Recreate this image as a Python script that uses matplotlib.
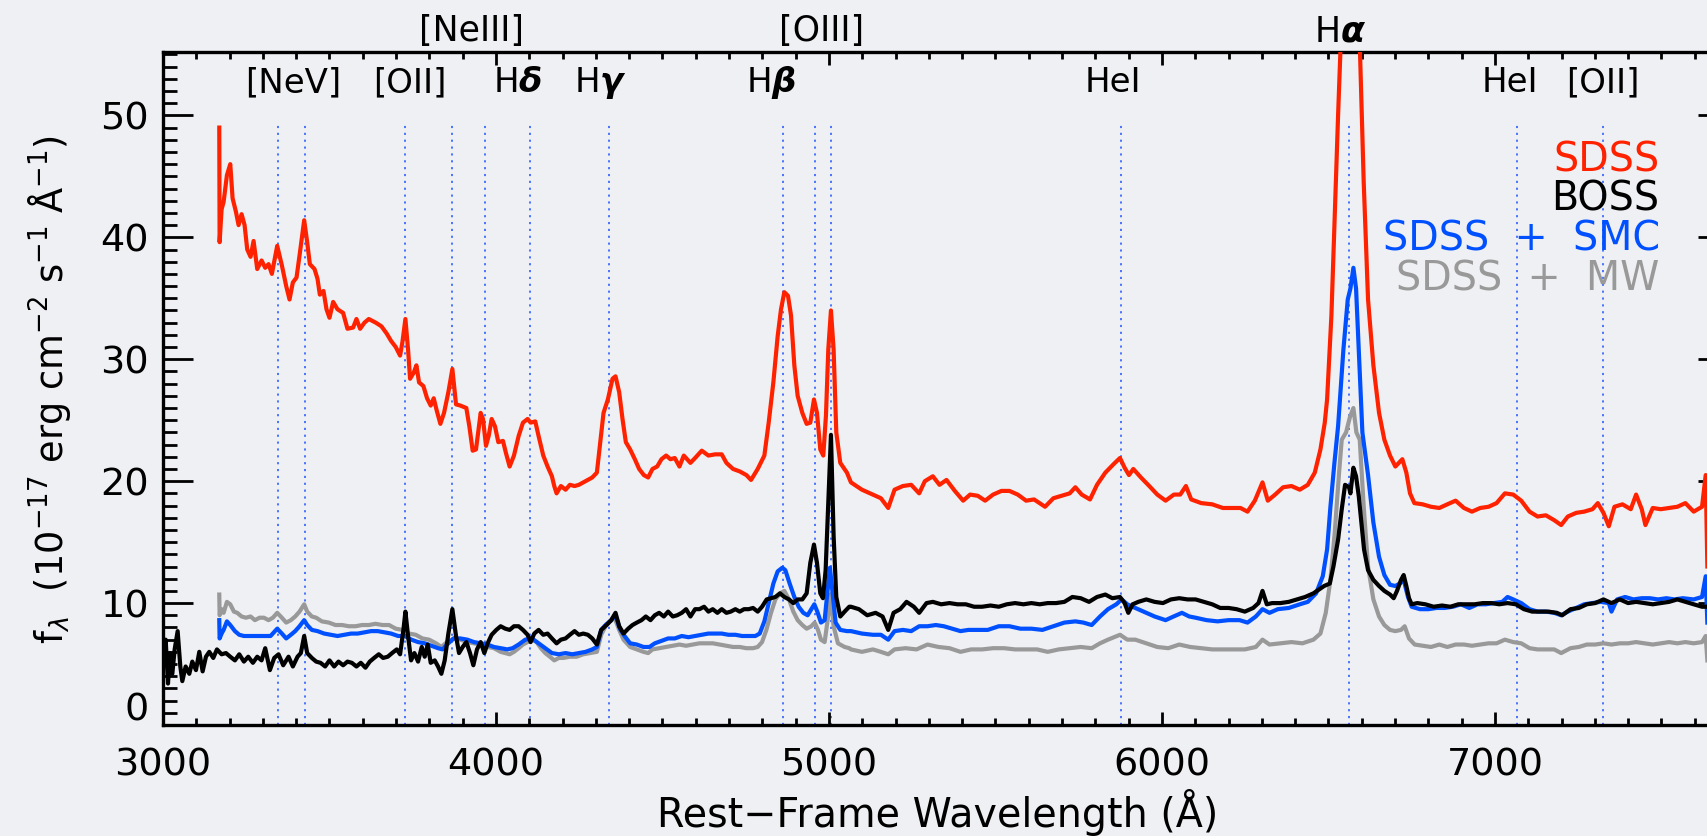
import matplotlib
matplotlib.use("Agg")
import matplotlib.pyplot as plt
from matplotlib.ticker import MultipleLocator, FixedLocator, FixedFormatter
import numpy as np

# ---------------- data ----------------
sdss_wave = [3169, 3170, 3176, 3182, 3192, 3202, 3209, 3219, 3227, 3236, 3245, 3253, 3263, 3272, 3283,
             3296, 3307, 3317, 3327, 3343, 3357, 3370, 3380, 3390, 3401, 3410, 3424, 3433, 3441, 3455,
             3464, 3471, 3482, 3491, 3500, 3511, 3524, 3541, 3554, 3571, 3581, 3592, 3605, 3618, 3639,
             3656, 3672, 3685, 3699, 3712, 3719, 3728, 3736, 3742, 3753, 3761, 3769, 3782, 3793, 3804,
             3813, 3822, 3833, 3844, 3857, 3869, 3880, 3893, 3911, 3920, 3930, 3940, 3954, 3961, 3970,
             3978, 3987, 3997, 4007, 4021, 4030, 4041, 4054, 4068, 4081, 4095, 4104, 4118, 4128, 4142,
             4155, 4168, 4175, 4182, 4195, 4209, 4222, 4236, 4249, 4269, 4289, 4303, 4323, 4336, 4350,
             4359, 4370, 4380, 4390, 4403, 4417, 4430, 4444, 4457, 4470, 4484, 4497, 4511, 4524, 4537,
             4551, 4564, 4584, 4598, 4618, 4638, 4658, 4678, 4692, 4712, 4732, 4752, 4766, 4786, 4806,
             4819, 4833, 4846, 4856, 4866, 4877, 4886, 4896, 4906, 4920, 4933, 4944, 4955, 4964, 4974,
             4983, 4991, 4998, 5006, 5014, 5022, 5034, 5054,
             5066, 5099, 5132, 5156, 5178, 5197, 5222, 5247, 5271, 5288, 5312, 5332, 5353, 5378, 5403,
             5424, 5447, 5469, 5493, 5518, 5542, 5567, 5592, 5616, 5649, 5674, 5699, 5723, 5740, 5759,
             5784, 5805, 5830, 5855, 5874, 5888, 5901, 5914, 5937, 5962, 5986, 6011, 6036, 6055, 6072,
             6088, 6118, 6151, 6183, 6216, 6236, 6257, 6279, 6302, 6318, 6340, 6364, 6389, 6414, 6438,
             6459, 6476, 6489, 6496, 6509, 6519, 6529, 6537, 6565, 6594, 6606, 6619, 6635, 6652, 6668,
             6685, 6701, 6722, 6734, 6745, 6758, 6783, 6808, 6833, 6857, 6882, 6907, 6931, 6956, 6981,
             7005, 7030, 7055, 7079, 7104, 7128, 7153, 7178, 7199, 7219, 7244, 7268, 7293, 7309, 7326,
             7342, 7359, 7383, 7408, 7424, 7441, 7452, 7474, 7498, 7523, 7548, 7572, 7597, 7622, 7633,
             7638]
sdss_flux = [49.0, 39.6, 42.3, 42.9, 45.1, 46.0, 43.2, 42.1, 41.0, 41.9, 41.0, 39.0, 38.4, 39.7, 37.4,
             38.1, 37.5, 37.8, 37.0, 39.3, 37.7, 36.0, 34.9, 36.3, 36.7, 38.5, 41.4, 39.6, 37.8, 37.4,
             36.6, 35.3, 35.6, 34.1, 33.4, 34.7, 34.1, 33.8, 32.5, 32.6, 33.3, 32.5, 33.0, 33.3, 33.0,
             32.7, 32.1, 31.5, 31.0, 30.3, 31.4, 33.3, 30.8, 28.4, 28.9, 29.5, 28.1, 27.8, 26.8, 26.2,
             26.8, 25.8, 24.7, 25.6, 27.3, 29.2, 26.3, 26.2, 26.0, 24.5, 22.5, 22.6, 25.6, 25.1, 22.9,
             23.7, 25.1, 24.5, 23.2, 23.3, 22.3, 21.2, 22.1, 23.7, 24.8, 25.1, 24.8, 24.9, 23.7, 22.1,
             21.2, 20.4, 19.6, 19.0, 19.6, 19.3, 19.7, 19.6, 19.7, 20.0, 20.3, 20.7, 25.6, 26.7, 28.4,
             28.6, 27.3, 25.1, 23.2, 22.6, 21.8, 21.0, 20.5, 20.3, 21.0, 21.2, 21.8, 22.1, 21.8, 21.9,
             21.2, 22.1, 21.5, 21.9, 22.5, 22.1, 22.2, 22.2, 21.5, 21.0, 20.8, 20.5, 20.1, 21.0, 22.1,
             24.8, 28.1, 31.9, 34.1, 35.5, 35.2, 33.6, 29.5, 27.0, 25.6, 24.7, 24.8, 26.7, 25.6, 22.6,
             22.1, 25.4, 30.8, 34.0, 30.8, 24.0, 21.5, 20.7,
             19.9, 19.3, 18.9, 18.6, 17.8, 19.3, 19.6, 19.7, 19.0, 20.0, 20.4, 19.7, 20.1, 19.2, 18.4,
             18.9, 18.8, 18.4, 18.9, 19.2, 19.2, 18.9, 18.4, 18.5, 17.9, 18.6, 18.8, 19.0, 19.5, 18.9,
             18.5, 19.7, 20.7, 21.4, 21.9, 21.1, 20.5, 21.0, 20.3, 19.6, 18.9, 18.4, 18.9, 18.9, 19.6,
             18.5, 18.2, 18.1, 17.8, 17.8, 17.8, 17.5, 18.4, 19.9, 18.4, 18.9, 19.5, 19.6, 19.3, 19.7,
             20.7, 22.6, 24.8, 26.7, 33.6, 41.8, 50.0, 56.0, 75.0, 56.0, 44.5, 34.9, 29.5, 25.6, 23.4,
             22.1, 21.2, 21.8, 20.7, 19.0, 18.2, 18.1, 17.9, 17.8, 18.1, 18.4, 17.8, 17.5, 17.8, 17.9,
             18.2, 19.0, 18.9, 18.4, 17.5, 17.1, 17.2, 16.8, 16.4, 17.1, 17.4, 17.5, 17.7, 18.2, 17.4,
             16.3, 17.9, 18.1, 17.7, 18.9, 17.7, 16.4, 17.8, 17.7, 17.8, 17.9, 18.2, 17.5, 17.9, 20.5,
             13.0]

boss_wave = [3001, 3008, 3015, 3021, 3028, 3035, 3044, 3052, 3058, 3068, 3079, 3088, 3099, 3109, 3119,
             3129, 3139, 3151, 3162, 3176, 3189, 3202, 3216, 3229, 3243, 3256, 3270, 3283, 3296, 3307,
             3321, 3334, 3347, 3361, 3377, 3390, 3404, 3414, 3424, 3433, 3447, 3460, 3473, 3487, 3500,
             3514, 3527, 3541, 3554, 3567, 3581, 3594, 3608, 3621, 3634, 3648, 3661, 3675, 3688, 3702,
             3712, 3722, 3728, 3736, 3745, 3755, 3766, 3777, 3786, 3795, 3804, 3816, 3826, 3836, 3846,
             3857, 3869, 3880, 3889, 3900, 3911, 3922, 3932, 3943, 3954, 3965, 3975, 3987, 4001, 4014,
             4028, 4041, 4054, 4068, 4081, 4095, 4104, 4115, 4128, 4142, 4155, 4168, 4182, 4195, 4209,
             4222, 4236, 4249, 4262, 4276, 4289, 4303, 4316, 4332, 4346, 4359, 4370, 4383, 4397, 4410,
             4423, 4437, 4450, 4464, 4477, 4490, 4504, 4517, 4531, 4544, 4558, 4571, 4584, 4598, 4611,
             4625, 4638, 4651, 4665, 4678, 4692, 4705, 4719, 4732, 4745, 4759, 4772, 4786, 4799, 4813,
             4826, 4839, 4853, 4866, 4880, 4893, 4906, 4920, 4933, 4944, 4955, 4964, 4974, 4982, 4990,
             4998, 5006, 5014, 5022, 5034, 5047, 5061,
             5066, 5090, 5115, 5140, 5161, 5178, 5194, 5214, 5233, 5255, 5271, 5293, 5312, 5337, 5362,
             5386, 5411, 5436, 5460, 5485, 5510, 5534, 5559, 5584, 5608, 5633, 5657, 5682, 5707, 5731,
             5756, 5781, 5805, 5830, 5851, 5874, 5888, 5899, 5912, 5929, 5953, 5978, 6003, 6027, 6052,
             6077, 6101, 6126, 6151, 6175, 6200, 6224, 6249, 6274, 6290, 6302, 6315, 6331, 6356, 6381,
             6405, 6430, 6455, 6471, 6487, 6504, 6515, 6529, 6540, 6550, 6562, 6566, 6575, 6583, 6591,
             6599, 6607, 6619, 6635, 6652, 6668, 6685, 6696, 6706, 6718, 6726, 6734, 6742, 6750, 6767,
             6791, 6816, 6841, 6866, 6890, 6915, 6939, 6964, 6989, 7013, 7038, 7063, 7087, 7112, 7137,
             7161, 7186, 7202, 7227, 7252, 7276, 7301, 7326, 7350, 7375, 7400, 7424, 7449, 7474, 7498,
             7523, 7548, 7572, 7597, 7622, 7638]
boss_flux = [5.3, 7.0, 3.4, 5.9, 4.2, 6.2, 7.7, 4.8, 3.6, 4.8, 4.2, 5.2, 4.5, 6.0, 4.4,
             5.6, 6.0, 5.5, 6.2, 5.8, 5.9, 5.6, 5.3, 5.8, 5.2, 5.6, 5.1, 5.6, 5.3, 6.3,
             4.5, 5.5, 5.8, 4.9, 5.6, 4.8, 5.6, 5.9, 7.3, 5.9, 5.5, 5.2, 5.1, 4.8, 5.3,
             4.8, 5.2, 4.9, 5.2, 5.1, 4.8, 5.1, 4.7, 5.2, 5.5, 5.8, 5.5, 5.6, 5.9, 6.2,
             5.8, 7.8, 9.3, 7.3, 5.3, 5.9, 5.2, 6.4, 5.6, 6.6, 5.1, 5.3, 4.8, 4.2, 5.3,
             7.5, 9.5, 7.3, 5.9, 6.4, 6.8, 5.9, 4.9, 6.2, 6.8, 5.9, 6.7, 7.4, 7.8, 8.1,
             7.9, 7.8, 8.1, 8.1, 7.8, 7.4, 6.8, 7.5, 7.8, 7.4, 7.5, 7.1, 6.7, 7.0, 7.1,
             7.4, 7.7, 7.4, 7.5, 7.4, 7.1, 6.6, 7.8, 8.2, 8.6, 9.2, 8.1, 7.5, 7.9, 8.2,
             8.4, 8.6, 8.9, 8.6, 9.0, 9.2, 8.9, 9.3, 8.9, 9.0, 9.2, 9.5, 8.9, 9.5, 9.5,
             9.7, 9.3, 9.5, 9.2, 9.5, 9.2, 9.3, 9.5, 9.3, 9.5, 9.5, 9.6, 9.3, 9.7, 10.3,
             10.4, 10.5, 10.8, 10.5, 10.3, 10.0, 10.3, 10.3, 10.8, 13.3, 14.8, 13.3, 10.8, 10.4, 12.7,
             18.2, 23.8, 15.5, 10.5, 8.9, 9.3, 9.7,
             9.7, 9.5, 9.0, 9.2, 8.9, 7.8, 9.2, 9.5, 10.1, 9.7, 9.2, 10.0, 10.1, 9.9, 10.0,
             9.9, 9.9, 9.7, 9.7, 9.8, 9.7, 9.9, 10.0, 9.9, 10.0, 9.9, 10.0, 10.0, 10.1, 10.5,
             10.4, 10.1, 10.5, 10.7, 10.4, 10.5, 10.0, 9.2, 9.9, 10.1, 10.3, 10.1, 10.0, 10.3, 10.4,
             10.3, 10.3, 10.1, 9.9, 9.6, 9.6, 9.5, 9.3, 9.6, 10.0, 11.0, 9.9, 10.0, 10.0, 10.1,
             10.3, 10.5, 10.8, 11.1, 11.4, 11.6, 13.0, 15.2, 17.7, 19.7, 19.5, 19.0, 21.1, 20.4, 18.8,
             16.6, 14.4, 12.7, 11.9, 11.4, 11.0, 10.7, 10.4, 11.0, 11.9, 12.3, 11.4, 10.4, 9.9, 10.0,
             9.9, 9.7, 9.8, 9.7, 9.9, 9.9, 9.9, 10.0, 10.0, 9.9, 10.0, 9.9, 9.5, 9.3, 9.3,
             9.3, 9.2, 9.0, 9.5, 9.6, 9.9, 10.0, 10.3, 10.0, 10.3, 10.0, 10.1, 10.0, 9.9, 10.0,
             10.1, 10.3, 10.1, 9.9, 9.7, 9.7]

smc_wave = [3169, 3170, 3176, 3182, 3192, 3202, 3216, 3229, 3243, 3256, 3270, 3283, 3296, 3310, 3323,
            3343, 3357, 3370, 3384, 3397, 3410, 3424, 3433, 3447, 3464, 3484, 3504, 3524, 3545, 3565,
            3585, 3605, 3625, 3645, 3665, 3685, 3706, 3726, 3746, 3766, 3786, 3806, 3826, 3840, 3853,
            3873, 3893, 3914, 3934, 3954, 3974, 3994, 4014, 4034, 4050, 4068, 4088, 4108, 4128, 4148,
            4168, 4189, 4209, 4229, 4249, 4269, 4289, 4303, 4316, 4329, 4346, 4359, 4372, 4386, 4403,
            4423, 4443, 4461, 4477, 4497, 4517, 4537, 4558, 4578, 4598, 4618, 4638, 4658, 4678, 4698,
            4719, 4739, 4759, 4779, 4792, 4806, 4819, 4833, 4846, 4860, 4869, 4882, 4896, 4909, 4923,
            4936, 4947, 4956, 4965, 4976, 4987, 4995, 5003, 5011, 5020, 5034, 5054,
            5066, 5099, 5132, 5156, 5178, 5197, 5222, 5247, 5271, 5296, 5321, 5345, 5370, 5395, 5419,
            5444, 5477, 5510, 5542, 5575, 5608, 5641, 5674, 5707, 5740, 5764, 5789, 5814, 5838, 5863,
            5879, 5896, 5920, 5945, 5978, 6011, 6035, 6060, 6082, 6101, 6134, 6167, 6200, 6233, 6257,
            6282, 6302, 6323, 6348, 6381, 6414, 6438, 6463, 6483, 6496, 6506, 6518, 6529, 6545, 6558,
            6566, 6575, 6583, 6591, 6602, 6619, 6635, 6652, 6668, 6685, 6701, 6714, 6726, 6739, 6750,
            6775, 6800, 6825, 6849, 6874, 6898, 6923, 6948, 6972, 6997, 7022, 7038, 7055, 7079, 7104,
            7128, 7153, 7178, 7199, 7219, 7244, 7268, 7293, 7317, 7342, 7350, 7367, 7391, 7416, 7441,
            7465, 7490, 7515, 7539, 7564, 7597, 7622, 7633, 7638]
smc_flux = [8.6, 7.1, 7.5, 7.8, 8.5, 8.2, 7.7, 7.4, 7.3, 7.3, 7.3, 7.3, 7.3, 7.3, 7.3,
            7.9, 7.5, 7.1, 7.4, 7.7, 8.1, 8.6, 8.2, 7.8, 7.7, 7.5, 7.4, 7.3, 7.4, 7.5,
            7.5, 7.6, 7.7, 7.7, 7.6, 7.5, 7.3, 7.3, 7.0, 6.8, 6.7, 6.5, 6.3, 6.2, 6.6,
            7.1, 7.1, 7.0, 6.8, 6.7, 6.6, 6.4, 6.3, 6.2, 6.3, 6.6, 7.0, 7.1, 6.7, 6.3,
            5.9, 5.8, 5.9, 5.8, 5.9, 6.0, 6.2, 6.4, 7.8, 8.2, 8.6, 9.0, 7.9, 7.3, 6.7,
            6.6, 6.4, 6.4, 6.7, 6.9, 7.1, 7.1, 7.3, 7.2, 7.3, 7.4, 7.5, 7.5, 7.5, 7.4,
            7.4, 7.3, 7.3, 7.3, 7.5, 8.5, 10.0, 11.6, 12.6, 12.9, 12.7, 11.6, 10.5, 9.7, 9.2,
            9.0, 9.5, 9.9, 9.3, 8.4, 8.6, 10.8, 12.9, 10.8, 8.4, 7.8, 7.7,
            7.7, 7.5, 7.4, 7.4, 7.0, 7.7, 7.8, 7.7, 8.1, 8.1, 8.2, 8.1, 7.9, 7.7, 7.8,
            7.8, 7.8, 8.1, 8.1, 7.9, 7.9, 7.8, 8.1, 8.4, 8.5, 8.4, 8.2, 8.9, 9.5, 9.9,
            10.3, 9.9, 9.6, 9.3, 8.9, 8.6, 8.9, 9.2, 8.9, 8.8, 8.6, 8.5, 8.6, 8.6, 8.4,
            8.9, 9.5, 9.2, 9.5, 9.6, 9.9, 10.1, 10.8, 12.2, 14.4, 17.9, 21.5, 24.5, 30.8, 34.9,
            35.8, 37.5, 35.8, 30.8, 24.0, 20.5, 16.6, 13.8, 12.3, 11.5, 11.4, 11.6, 11.9, 10.5, 9.7,
            9.5, 9.5, 9.6, 9.6, 9.7, 9.9, 9.6, 9.9, 9.9, 10.0, 10.1, 10.5, 10.3, 10.0, 9.5,
            9.3, 9.3, 9.2, 9.0, 9.3, 9.6, 9.9, 10.0, 10.1, 10.0, 9.3, 10.3, 10.5, 10.3, 10.4,
            10.4, 10.3, 10.4, 10.3, 10.4, 10.3, 10.5, 12.2, 8.4]

mw_wave = [3169, 3170, 3176, 3182, 3192, 3202, 3213, 3223, 3236, 3249, 3263, 3276, 3290, 3303, 3317,
           3330, 3343, 3357, 3370, 3384, 3397, 3410, 3424, 3433, 3447, 3460, 3477, 3498, 3518, 3538,
           3558, 3578, 3598, 3618, 3638, 3659, 3679, 3699, 3719, 3739, 3759, 3779, 3799, 3820, 3836,
           3853, 3873, 3893, 3914, 3934, 3954, 3974, 3994, 4014, 4028, 4041, 4054, 4068, 4081, 4095,
           4108, 4122, 4135, 4148, 4162, 4175, 4189, 4202, 4222, 4242, 4262, 4282, 4303, 4316, 4329,
           4343, 4356, 4370, 4383, 4403, 4423, 4443, 4457, 4470, 4490, 4510, 4531, 4551, 4571, 4591,
           4611, 4631, 4651, 4672, 4692, 4712, 4732, 4752, 4772, 4786, 4799, 4812, 4826, 4839, 4853,
           4866, 4880, 4893, 4906, 4920, 4933, 4947, 4957, 4967, 4976, 4987, 4996, 5004, 5014, 5027,
           5047, 5061,
           5066, 5099, 5132, 5156, 5178, 5197, 5230, 5263, 5296, 5329, 5362, 5395, 5427, 5460, 5493,
           5526, 5559, 5592, 5625, 5657, 5690, 5723, 5756, 5789, 5814, 5838, 5874, 5896, 5920, 5953,
           5986, 6019, 6052, 6085, 6118, 6151, 6183, 6216, 6249, 6282, 6302, 6323, 6356, 6389, 6422,
           6455, 6476, 6492, 6506, 6519, 6532, 6540, 6553, 6565, 6575, 6584, 6594, 6606, 6619, 6635,
           6652, 6668, 6685, 6701, 6718, 6729, 6742, 6759, 6783, 6808, 6833, 6857, 6882, 6907, 6931,
           6956, 6981, 7005, 7030, 7055, 7079, 7104, 7128, 7153, 7178, 7199, 7227, 7252, 7276, 7301,
           7326, 7350, 7375, 7400, 7424, 7449, 7474, 7498, 7523, 7548, 7572, 7597, 7622, 7633, 7638]
mw_flux = [10.7, 9.0, 9.5, 9.2, 10.1, 9.9, 9.3, 9.2, 8.9, 8.8, 8.9, 8.6, 8.8, 8.8, 8.6,
           8.8, 9.2, 8.8, 8.4, 8.6, 8.9, 9.3, 9.9, 9.3, 8.9, 8.8, 8.5, 8.4, 8.2, 8.2,
           8.1, 8.1, 8.2, 8.2, 8.3, 8.2, 8.2, 7.9, 7.8, 7.5, 7.4, 7.1, 7.0, 6.7, 6.4,
           6.8, 7.1, 7.0, 6.8, 6.7, 6.6, 6.4, 6.3, 6.0, 5.9, 5.8, 6.0, 6.3, 6.6, 6.8,
           7.0, 6.8, 6.3, 5.9, 5.6, 5.3, 5.5, 5.5, 5.6, 5.6, 5.8, 5.9, 6.0, 7.4, 8.1,
           8.5, 8.8, 7.8, 7.0, 6.4, 6.2, 6.0, 5.9, 6.2, 6.3, 6.4, 6.5, 6.6, 6.5, 6.6,
           6.7, 6.7, 6.7, 6.6, 6.5, 6.4, 6.4, 6.3, 6.3, 6.4, 6.8, 7.8, 9.2, 10.3, 10.8,
           11.0, 10.3, 9.3, 8.6, 8.2, 7.9, 8.1, 8.4, 7.8, 7.0, 6.8, 8.6, 10.7, 8.1, 6.7,
           6.4, 6.3,
           6.2, 6.0, 6.2, 6.0, 5.8, 6.2, 6.3, 6.2, 6.6, 6.4, 6.3, 6.0, 6.2, 6.2, 6.3,
           6.3, 6.2, 6.2, 6.2, 6.0, 6.2, 6.3, 6.4, 6.3, 6.7, 7.0, 7.4, 7.0, 7.0, 6.7,
           6.4, 6.3, 6.6, 6.4, 6.3, 6.2, 6.2, 6.2, 6.2, 6.4, 7.0, 6.6, 6.7, 6.8, 6.7,
           7.0, 7.5, 9.2, 11.9, 15.8, 20.7, 23.4, 24.0, 25.3, 26.0, 24.0, 23.4, 17.9, 13.0, 10.3,
           8.9, 8.2, 7.8, 7.7, 7.8, 8.1, 7.1, 6.6, 6.5, 6.4, 6.6, 6.4, 6.6, 6.6, 6.5,
           6.6, 6.7, 6.7, 7.0, 6.8, 6.7, 6.3, 6.2, 6.2, 6.2, 5.9, 6.3, 6.4, 6.6, 6.6,
           6.7, 6.6, 6.7, 6.7, 6.8, 6.7, 6.6, 6.7, 6.8, 6.7, 6.8, 6.7, 6.8, 7.3, 5.3]

line_waves = [3346, 3426, 3727, 3869, 3968, 4102, 4340, 4861, 4959, 5007, 5876, 6563, 7065, 7325]
line_top = 49.2

upper_labels = ["[NeIII]", "[OIII]", r"H$\boldsymbol{\alpha}$"]
upper_label_pos = [3925, 4979, 6535]
lower_labels = ["[NeV]", "[OII]", r"H$\boldsymbol{\delta}$", r"H$\boldsymbol{\gamma}$",
                r"H$\boldsymbol{\beta}$", "HeI", "HeI", "[OII]"]
lower_label_pos = [3390, 3742, 4066, 4312, 4826, 5853, 7045, 7324]

legend_labels = ["SDSS", "BOSS", "SDSS  +  SMC", "SDSS  +  MW"]
legend_y = [46.3, 43.1, 39.8, 36.5]

x_ticks = [3000, 4000, 5000, 6000, 7000]
y_ticks = [0, 10, 20, 30, 40, 50]

# ---------------- styling ----------------
BG = "#EFF0F3"
RED = "#FF2200"
BLUE = "#0050FF"
GRAY = "#999999"
LINEBLUE = "#3D6BFF"

plt.rcParams["font.family"] = ["DejaVu Sans"]
plt.rcParams["mathtext.fontset"] = "dejavusans"

W, H = 1708, 836
fig = plt.figure(figsize=(W / 100, H / 100), dpi=100, facecolor=BG)
ax = fig.add_axes([163 / W, 111 / H, 1565 / W, 673 / H])
ax.set_facecolor(BG)
ax.set_xlim(3000, 7700)
ax.set_ylim(0, 55.2)

# emission-line markers
for lw_ in line_waves:
    ax.plot([lw_, lw_], [0, line_top], color=LINEBLUE, lw=1.3,
            linestyle=(0, (1.2, 2.6)), zorder=1)

lw = 3.0
ax.plot(sdss_wave, sdss_flux, color=RED, lw=lw, zorder=3)
ax.plot(mw_wave, mw_flux, color=GRAY, lw=lw, zorder=4)
ax.plot(smc_wave, smc_flux, color=BLUE, lw=lw, zorder=5)
ax.plot(boss_wave, boss_flux, color="black", lw=lw, zorder=6)

# ticks
ax.xaxis.set_major_locator(FixedLocator(x_ticks))
ax.xaxis.set_minor_locator(MultipleLocator(100))
ax.yaxis.set_major_locator(FixedLocator(y_ticks))
ax.yaxis.set_major_formatter(FixedFormatter([("" if v == 0 else str(v)) for v in y_ticks]))
ax.yaxis.set_minor_locator(MultipleLocator(1))
ax.tick_params(which="both", direction="in", top=True, right=True, width=2.0, color="black")
ax.tick_params(axis="y", which="major", length=21.6, labelsize=27.5, pad=10)
ax.tick_params(axis="y", which="minor", length=10)
ax.tick_params(axis="x", which="major", length=9.7, labelsize=27.5, pad=16)
ax.tick_params(axis="x", which="minor", length=5)
for s in ax.spines.values():
    s.set_linewidth(2.4)

# raised "0" label (as in the reference)
ax.text(-14 / 1565, 1.2, "0", transform=ax.get_yaxis_transform(), ha="right", va="center",
        fontsize=27.5)

# line labels
for lab, x in zip(upper_labels, upper_label_pos):
    ax.text(x, 56.1, lab, ha="center", va="baseline", fontsize=25, clip_on=False)
for lab, x in zip(lower_labels, lower_label_pos):
    ax.text(x, 51.9, lab, ha="center", va="baseline", fontsize=24.5, clip_on=False)

# legend-like labels
for lab, y, c in zip(legend_labels, legend_y, [RED, "black", BLUE, GRAY]):
    ax.text(7495, y, lab, ha="right", va="center", color=c, fontsize=28.5)

# axis titles
fig.text(938 / W, 1 - 812 / H, "Rest\u2212Frame Wavelength (\u00c5)", ha="center", va="center",
         fontsize=28.5)
fig.text(50 / W, 1 - 390 / H,
         r"f$_\lambda$  (10$^{-17}$ erg cm$^{-2}$ s$^{-1}$ $\mathrm{\AA}^{-1}$)",
         ha="center", va="center", rotation=90, fontsize=26.5)

fig.savefig("out.png", dpi=100, facecolor=BG)
